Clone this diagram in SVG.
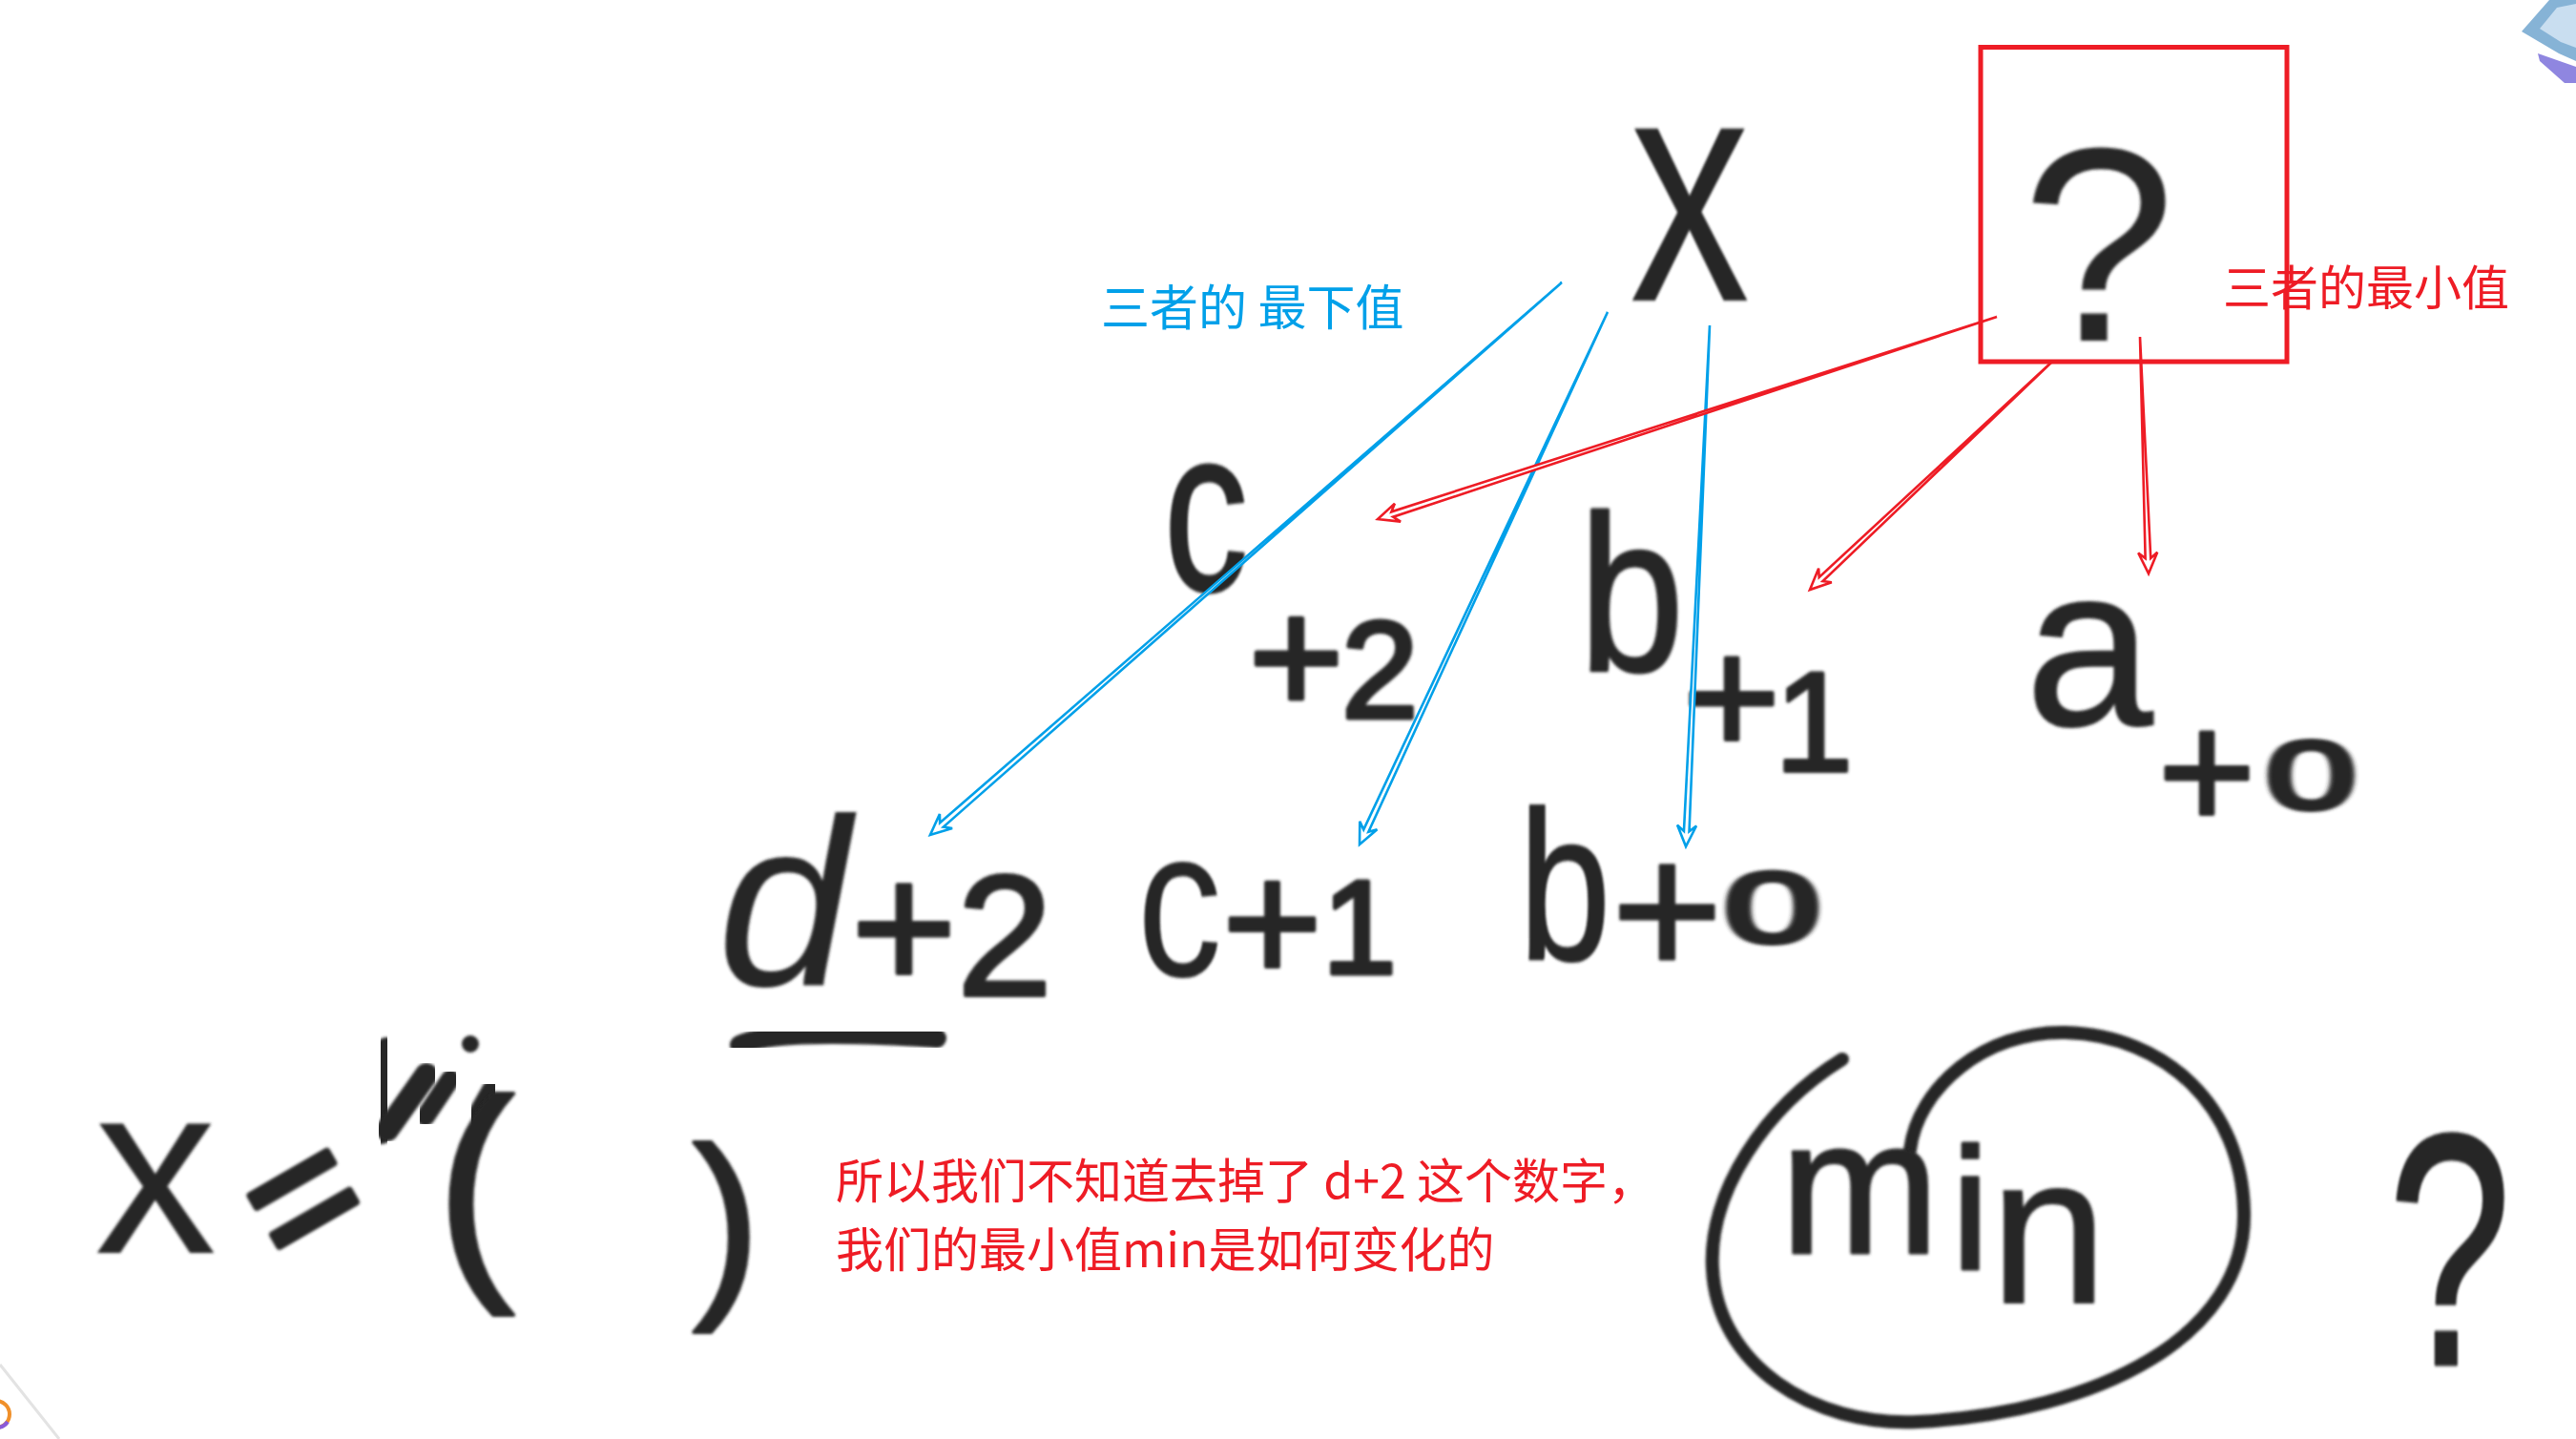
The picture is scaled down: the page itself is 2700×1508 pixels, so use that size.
<svg xmlns="http://www.w3.org/2000/svg" width="2700" height="1508" viewBox="0 0 2700 1508">
<defs>
<filter id="soft" x="-20%" y="-20%" width="140%" height="140%"><feGaussianBlur stdDeviation="1.6"/></filter>
<style>
.hw{font-family:"Liberation Sans",Arial,sans-serif;fill:#262626;stroke:#262626;stroke-linejoin:round;stroke-linecap:round;stroke-width:0;filter:url(#soft)}
.mark{fill:none;stroke:#262626;stroke-linecap:round;stroke-linejoin:round;filter:url(#soft)}
.cn{font-family:"Noto Sans CJK SC","Noto Sans",sans-serif}
.blue{fill:#00a0e9}
.red{fill:#ee1c25}
.arB{fill:#fff;stroke:#00a0e9;stroke-width:2.6;stroke-linejoin:miter}
.arR{fill:#fff;stroke:#ee1c25;stroke-width:2.6;stroke-linejoin:miter}
</style>
</defs>
<rect width="2700" height="1508" fill="#ffffff"/>

<!-- UI fragments -->
<g id="ui">
<polygon points="2672,0 2700,0 2700,64 2682,56 2643,33" fill="#86b3d6"/>
<polygon points="2680,8 2700,4 2700,50 2684,44 2662,30" fill="#c9def0"/>
<polygon points="2660,56 2700,70 2700,87 2688,87 2662,64" fill="#8f86e0"/>
<line x1="0" y1="1430" x2="62" y2="1508" stroke="#e3e3e3" stroke-width="3"/>
<circle cx="-4" cy="1482" r="14" fill="none" stroke="#f0902a" stroke-width="4"/>
<path d="M8,1490 A14,14 0 0 1 -4,1496" fill="none" stroke="#8a5ad8" stroke-width="4"/>
</g>

<!-- red box -->
<g id="box">
<rect x="2076" y="49.5" width="321" height="329.5" fill="none" stroke="#ee1c25" stroke-width="5"/>
</g>

<!-- handwriting: top -->
<g id="node-x-top"><text class="hw" transform="translate(1708,315) scale(0.74,1)" font-size="341">x</text></g>
<g id="node-q-top"><text class="hw" x="2119" y="357" font-size="290">?</text></g>

<g id="node-c2">
<text class="hw" transform="translate(1220,619) scale(0.72,1)" font-size="245" style="stroke-width:3">c</text>
<text class="hw"><tspan x="1309" y="747" font-size="170" style="stroke-width:5">+</tspan><tspan x="1406" y="752" font-size="145" style="stroke-width:5">2</tspan></text>
</g>
<g id="node-b1">
<text class="hw" transform="translate(1655,702) scale(0.85,1)" font-size="233" style="stroke-width:3">b</text>
<text class="hw"><tspan x="1764" y="790" font-size="175" style="stroke-width:4">+</tspan><tspan x="1860" y="808" font-size="148" style="stroke-width:4">1</tspan></text>
</g>
<g id="node-a0">
<text class="hw" x="2123" y="760" font-size="240" style="stroke-width:2">a</text>
<text class="hw" x="2262" y="868" font-size="175" style="stroke-width:4">+</text>
<text class="hw" transform="translate(2375,847) scale(1.7,1)" font-size="100" style="stroke-width:6">0</text>
</g>

<!-- handwriting: second row -->
<g id="node-d2">
<text class="hw"><tspan x="752" y="1033" font-size="250" font-style="italic">d</tspan><tspan x="892" y="1037" font-size="190" style="stroke-width:4">+</tspan><tspan x="1003" y="1043" font-size="180" style="stroke-width:4">2</tspan></text>
<path class="mark" d="M775,1095 C805,1081 885,1082 982,1088" stroke-width="20"/>
</g>
<g id="node-c1">
<text class="hw" transform="translate(1192,1023) scale(0.8,1)" font-size="222">c</text>
<text class="hw"><tspan x="1281" y="1029" font-size="180" style="stroke-width:4">+</tspan><tspan x="1386" y="1020" font-size="140" style="stroke-width:5">1</tspan></text>
</g>
<g id="node-b0">
<text class="hw" transform="translate(1592,1005) scale(0.78,1)" font-size="222" style="stroke-width:2">b</text>
<text class="hw" x="1689" y="1023" font-size="200" style="stroke-width:3">+</text>
<text class="hw" transform="translate(1807,987) scale(1.75,1)" font-size="104" style="stroke-width:6">0</text>
</g>

<!-- handwriting: bottom formula -->
<g id="node-formula">
<text class="hw" x="99" y="1313" font-size="256">x</text>
<text class="hw" transform="translate(317,1255) rotate(-30)" x="0" y="64" text-anchor="middle" font-size="190" style="stroke-width:8">=</text>
<g id="scribble">
<line class="mark" x1="405" y1="1098" x2="400" y2="1188" stroke-width="22"/>
<line class="mark" x1="447" y1="1126" x2="406" y2="1184" stroke-width="24"/>
<line class="mark" x1="472" y1="1131" x2="446" y2="1170" stroke-width="20"/>
<circle cx="493" cy="1094" r="9" fill="#262626" filter="url(#soft)"/>
<line class="mark" x1="515" y1="1142" x2="498" y2="1172" stroke-width="20"/>
</g>
<text class="hw" x="457" y="1326" font-size="248" style="stroke-width:4">(</text>
<text class="hw" x="726" y="1352" font-size="213" style="stroke-width:4">)</text>
</g>

<g id="node-min">
<path class="mark" d="M1931,1110 C1850,1160 1790,1250 1795,1330 C1800,1430 1900,1495 2010,1490 C2200,1480 2355,1400 2352,1270 C2350,1160 2270,1085 2165,1082 C2080,1080 2010,1140 2002,1205" stroke-width="14"/>
<text class="hw"><tspan x="1866" y="1313" font-size="200" style="stroke-width:3">m</tspan><tspan x="2045" y="1330" font-size="182" style="stroke-width:3">i</tspan><tspan x="2086" y="1365" font-size="220" style="stroke-width:2">n</tspan></text>
</g>

<g id="node-q-bottom"><text class="hw" transform="translate(2503,1430) scale(0.67,1)" font-size="347" style="stroke-width:3">?</text></g>

<!-- annotations -->
<g id="label-blue"><text class="cn blue" x="1154" y="341" font-size="51">三者的 最下值</text></g>
<g id="label-red"><text class="cn red" x="2330" y="320" font-size="50">三者的最小值</text></g>
<g id="label-note"><text class="cn red" font-size="50"><tspan x="876" y="1256">所以我们不知道去掉了 d+2 这个数字，</tspan><tspan x="876" y="1328">我们的最小值min是如何变化的</tspan></text></g>

<!-- connectors -->
<g id="connectors">
<path class="arB" transform="translate(1637,296) rotate(138.83)" d="M0,0 L863.5,2.8 L857.5,10 L879.5,0 L857.5,-10 L863.5,-2.8 Z"/>
<path class="arB" transform="translate(1685,327) rotate(114.98)" d="M0,0 L599.6,2.8 L593.6,10 L615.6,0 L593.6,-10 L599.6,-2.8 Z"/>
<path class="arB" transform="translate(1792,341) rotate(92.62)" d="M0,0 L530.6,2.8 L524.6,10 L546.6,0 L524.6,-10 L530.6,-2.8 Z"/>
<path class="arR" transform="translate(2093,332) rotate(161.91)" d="M0,0 L666.7,2.8 L660.7,10 L682.7,0 L660.7,-10 L666.7,-2.8 Z"/>
<path class="arR" transform="translate(2152,378) rotate(136.74)" d="M0,0 L334.2,2.8 L328.2,10 L350.2,0 L328.2,-10 L334.2,-2.8 Z"/>
<path class="arR" transform="translate(2243,353) rotate(87.92)" d="M0,0 L232.2,2.8 L226.2,10 L248.2,0 L226.2,-10 L232.2,-2.8 Z"/>
</g>
</svg>
